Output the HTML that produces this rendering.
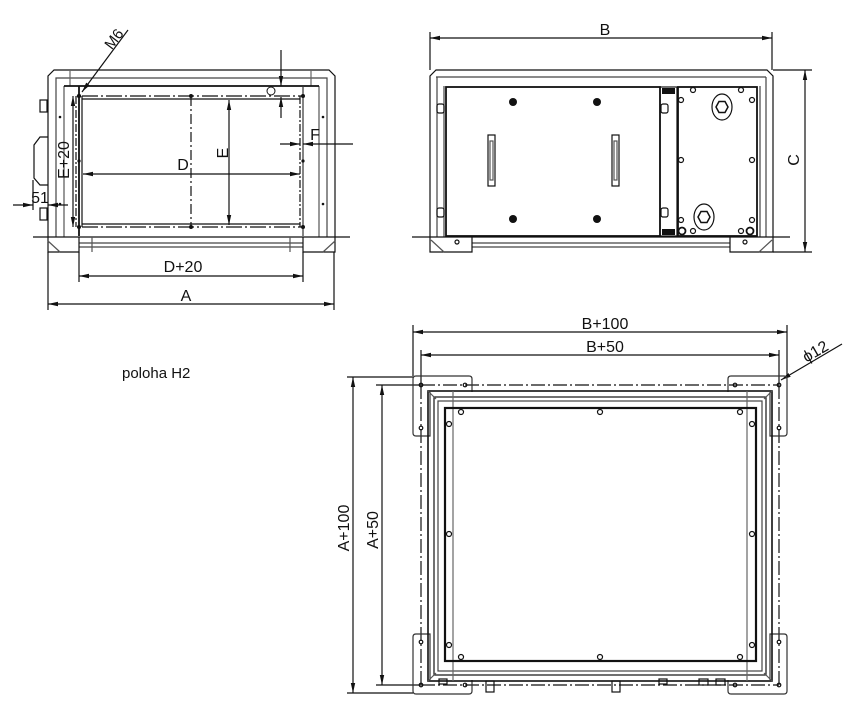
<!DOCTYPE html>
<html><head><meta charset="utf-8"><style>
html,body{margin:0;padding:0;background:#fff;}
svg{display:block;}
text{font-family:"Liberation Sans",Arial,sans-serif;fill:#111;}
</style></head><body>
<svg width="851" height="716" viewBox="0 0 851 716" xmlns="http://www.w3.org/2000/svg">
<defs>
<marker id="a" viewBox="0 0 10 6" refX="10" refY="3" markerWidth="10" markerHeight="6" orient="auto-start-reverse" markerUnits="userSpaceOnUse"><path d="M0,0.8 L10,3 L0,5.2 Z" fill="#111"/></marker>
</defs>
<g stroke="#111" fill="none" stroke-width="1.2">
<!-- ============ LEFT VIEW ============ -->
<path d="M48,237 V76 L54,70 H329 L335,76 V237"/>
<path d="M56,237 V78 H327 V237" stroke="#444"/>
<path d="M64,237 V86 M319,237 V86" stroke="#555"/>
<line x1="70" y1="70" x2="70" y2="86" stroke="#666"/>
<line x1="311" y1="70" x2="311" y2="86" stroke="#666"/>
<line x1="64" y1="86" x2="319" y2="86" stroke-width="1.8"/>
<line x1="79" y1="86" x2="79" y2="236" stroke-width="1.8"/>
<line x1="303" y1="86" x2="303" y2="236" stroke="#333"/>
<line x1="82" y1="96" x2="303" y2="96" stroke-dasharray="16,3,2,3"/>
<line x1="82" y1="99" x2="300" y2="99"/>
<line x1="82" y1="224" x2="300" y2="224"/>
<line x1="82" y1="227" x2="303" y2="227" stroke-dasharray="16,3,2,3"/>
<line x1="82" y1="96" x2="82" y2="227"/>
<line x1="76" y1="96" x2="76" y2="227" stroke-dasharray="8,2,2,2"/>
<line x1="300" y1="96" x2="300" y2="227" stroke-dasharray="8,2,2,2"/>
<line x1="191" y1="96" x2="191" y2="227" stroke-dasharray="10,3,2,3"/>
<line x1="33" y1="237" x2="350" y2="237"/>
<line x1="79" y1="243" x2="303" y2="243" stroke="#444"/>
<line x1="79" y1="247" x2="303" y2="247" stroke="#444"/>
<path d="M48,237 V252 H79 V237 M303,237 V252 H335 V237"/>
<path d="M48,241 L60,252 M335,241 L323,252 M92,237 V252 M290,237 V252" stroke="#555"/>
<path d="M48,137 H40 L34,145 V178 L40,185 H48"/>
<rect x="40" y="100" width="7" height="12"/>
<rect x="40" y="208" width="7" height="12"/>
<line x1="79" y1="252" x2="79" y2="282"/>
<line x1="303" y1="252" x2="303" y2="282"/>
<line x1="48" y1="252" x2="48" y2="310"/>
<line x1="334" y1="252" x2="334" y2="310"/>
<line x1="79" y1="276" x2="303" y2="276" marker-start="url(#a)" marker-end="url(#a)"/>
<line x1="48" y1="304" x2="334" y2="304" marker-start="url(#a)" marker-end="url(#a)"/>
<line x1="73" y1="96" x2="73" y2="227" marker-start="url(#a)" marker-end="url(#a)"/>
<line x1="83" y1="174" x2="300" y2="174" marker-start="url(#a)" marker-end="url(#a)"/>
<line x1="229" y1="100" x2="229" y2="225" marker-start="url(#a)" marker-end="url(#a)"/>
<line x1="280" y1="144" x2="300" y2="144" marker-end="url(#a)"/>
<line x1="353" y1="144" x2="303" y2="144" marker-end="url(#a)"/>
<line x1="281" y1="50" x2="281" y2="86" marker-end="url(#a)"/>
<line x1="281" y1="118" x2="281" y2="97" marker-end="url(#a)"/>
<line x1="128" y1="30" x2="82" y2="92" marker-end="url(#a)"/>
<line x1="13" y1="205" x2="33" y2="205" marker-end="url(#a)"/>
<line x1="68" y1="205" x2="48" y2="205" marker-end="url(#a)"/>
<line x1="33" y1="180" x2="33" y2="210"/>
</g>
<g fill="#111">
<circle cx="79" cy="96" r="2.2"/><circle cx="191" cy="96" r="2"/><circle cx="303" cy="96" r="2"/>
<circle cx="79" cy="227" r="2"/><circle cx="191" cy="227" r="2"/><circle cx="303" cy="227" r="2"/>
<circle cx="79" cy="161" r="1.6"/><circle cx="303" cy="161" r="1.6"/>
<circle cx="60" cy="117" r="1.3"/><circle cx="60" cy="204" r="1.3"/><circle cx="323" cy="117" r="1.3"/><circle cx="323" cy="204" r="1.3"/>
</g>
<circle cx="271" cy="91" r="4" fill="none" stroke="#111"/>
<text x="183" y="272" font-size="16" text-anchor="middle">D+20</text>
<text x="186" y="301" font-size="16" text-anchor="middle">A</text>
<text x="183" y="170" font-size="16" text-anchor="middle">D</text>
<text x="315" y="140" font-size="16" text-anchor="middle">F</text>
<text x="40" y="203" font-size="16" text-anchor="middle">51</text>
<text transform="translate(69,160) rotate(-90)" font-size="16" text-anchor="middle">E+20</text>
<text transform="translate(228,153) rotate(-90)" font-size="16" text-anchor="middle">E</text>
<text transform="translate(118,42) rotate(-53)" font-size="15" text-anchor="middle">M6</text>
<text x="122" y="378" font-size="15" text-anchor="start">poloha H2</text>

<!-- ============ RIGHT VIEW ============ -->
<g stroke="#111" fill="none" stroke-width="1.2">
<path d="M430,237 V76 L436,70 H767 L773,76 V237"/>
<line x1="436" y1="77" x2="766" y2="77" stroke="#444"/>
<path d="M437,237 V77 M766,237 V77" stroke="#444"/>
<line x1="444" y1="86" x2="444" y2="237" stroke="#444"/>
<line x1="760" y1="86" x2="760" y2="237" stroke="#444"/>
<rect x="446" y="87" width="214" height="149" stroke-width="1.8"/>
<rect x="660" y="87" width="17" height="149"/>
<rect x="678" y="87" width="79" height="149" stroke-width="1.8"/>
<line x1="412" y1="237" x2="790" y2="237"/>
<line x1="472" y1="243" x2="730" y2="243" stroke="#444"/>
<line x1="472" y1="247" x2="730" y2="247" stroke="#444"/>
<path d="M430,237 V252 H472 V237 M730,237 V252 H773 V237"/>
<path d="M431,240 L444,252 M772,240 L759,252" stroke="#555"/>
<rect x="488" y="135" width="7" height="51"/>
<rect x="612" y="135" width="7" height="51"/>
<rect x="490" y="141" width="3" height="39" stroke="#555"/>
<rect x="614" y="141" width="3" height="39" stroke="#555"/>
<rect x="437" y="104" width="7" height="9" rx="2"/>
<rect x="437" y="208" width="7" height="9" rx="2"/>
<rect x="661" y="104" width="7" height="9" rx="2"/>
<rect x="661" y="208" width="7" height="9" rx="2"/>
<ellipse cx="722" cy="107" rx="10" ry="13"/>
<polygon points="716,107 719,101.5 725,101.5 728,107 725,112.5 719,112.5" stroke-width="1.5"/>
<ellipse cx="704" cy="217" rx="10" ry="13"/>
<polygon points="698,217 701,211.5 707,211.5 710,217 707,222.5 701,222.5" stroke-width="1.5"/>
<circle cx="693" cy="90" r="2.5"/><circle cx="741" cy="90" r="2.5"/>
<circle cx="681" cy="100" r="2.5"/><circle cx="752" cy="100" r="2.5"/>
<circle cx="681" cy="160" r="2.5"/><circle cx="752" cy="160" r="2.5"/>
<circle cx="681" cy="220" r="2.5"/><circle cx="752" cy="220" r="2.5"/>
<circle cx="693" cy="231" r="2.5"/><circle cx="741" cy="231" r="2.5"/>
<circle cx="682" cy="231" r="3.5" stroke-width="1.8"/><circle cx="750" cy="231" r="3.5" stroke-width="1.8"/>
<circle cx="457" cy="242" r="2"/><circle cx="745" cy="242" r="2"/>
<line x1="430" y1="32" x2="430" y2="70"/>
<line x1="772" y1="32" x2="772" y2="70"/>
<line x1="430" y1="38" x2="772" y2="38" marker-start="url(#a)" marker-end="url(#a)"/>
<line x1="773" y1="70" x2="812" y2="70"/>
<line x1="773" y1="252" x2="812" y2="252"/>
<line x1="805" y1="70" x2="805" y2="252" marker-start="url(#a)" marker-end="url(#a)"/>
</g>
<g fill="#111">
<circle cx="513" cy="102" r="4"/><circle cx="597" cy="102" r="4"/>
<circle cx="513" cy="219" r="4"/><circle cx="597" cy="219" r="4"/>
<rect x="662" y="88" width="13" height="6"/><rect x="662" y="229" width="13" height="6"/>
</g>
<text x="605" y="35" font-size="16" text-anchor="middle">B</text>
<text transform="translate(799,160) rotate(-90)" font-size="16" text-anchor="middle">C</text>

<!-- ============ BOTTOM VIEW ============ -->
<g stroke="#111" fill="none" stroke-width="1.2">
<line x1="413" y1="325" x2="413" y2="376"/>
<line x1="787" y1="325" x2="787" y2="376"/>
<line x1="413" y1="332" x2="787" y2="332" marker-start="url(#a)" marker-end="url(#a)"/>
<line x1="421" y1="350" x2="421" y2="385"/>
<line x1="779" y1="350" x2="779" y2="385"/>
<line x1="421" y1="355" x2="779" y2="355" marker-start="url(#a)" marker-end="url(#a)"/>
<line x1="347" y1="377" x2="413" y2="377"/>
<line x1="347" y1="693" x2="413" y2="693"/>
<line x1="353" y1="377" x2="353" y2="693" marker-start="url(#a)" marker-end="url(#a)"/>
<line x1="376" y1="385" x2="421" y2="385"/>
<line x1="376" y1="685" x2="421" y2="685"/>
<line x1="382" y1="385" x2="382" y2="685" marker-start="url(#a)" marker-end="url(#a)"/>
<line x1="842" y1="344" x2="781" y2="380" marker-end="url(#a)"/>
<line x1="421" y1="385" x2="779" y2="385" stroke-dasharray="14,3,2,3"/>
<line x1="421" y1="685" x2="779" y2="685" stroke-dasharray="14,3,2,3"/>
<line x1="421" y1="385" x2="421" y2="685" stroke-dasharray="14,3,2,3"/>
<line x1="779" y1="385" x2="779" y2="685" stroke-dasharray="14,3,2,3"/>
<path d="M430,392 V436 H416 Q413,436 413,433 V379 Q413,376 416,376 H469 Q472,376 472,379 V392" stroke="#333"/>
<path d="M770,392 V436 H784 Q787,436 787,433 V379 Q787,376 784,376 H731 Q728,376 728,379 V392" stroke="#333"/>
<path d="M430,680 V634 H416 Q413,634 413,637 V691 Q413,694 416,694 H469 Q472,694 472,691 V680" stroke="#333"/>
<path d="M770,680 V634 H784 Q787,634 787,637 V691 Q787,694 784,694 H731 Q728,694 728,691 V680" stroke="#333"/>
<rect x="428" y="391" width="344" height="290" stroke-width="1.6"/>
<rect x="434" y="397" width="332" height="278"/>
<rect x="438" y="401" width="324" height="270" stroke="#444"/>
<path d="M453,391 V681 M747,391 V681" stroke="#666"/>
<path d="M428,391 L436,399 M772,391 L764,399 M428,681 L436,673 M772,681 L764,673" stroke="#555"/>
<rect x="445" y="408" width="311" height="253" stroke-width="2.2"/>
<circle cx="461" cy="412" r="2.5"/><circle cx="600" cy="412" r="2.5"/><circle cx="740" cy="412" r="2.5"/>
<circle cx="449" cy="424" r="2.5"/><circle cx="752" cy="424" r="2.5"/>
<circle cx="449" cy="534" r="2.5"/><circle cx="752" cy="534" r="2.5"/>
<circle cx="449" cy="645" r="2.5"/><circle cx="752" cy="645" r="2.5"/>
<circle cx="461" cy="657" r="2.5"/><circle cx="600" cy="657" r="2.5"/><circle cx="740" cy="657" r="2.5"/>
<circle cx="421" cy="385" r="1.8"/><circle cx="465" cy="385" r="1.8"/><circle cx="421" cy="428" r="1.8"/>
<circle cx="779" cy="385" r="1.8"/><circle cx="735" cy="385" r="1.8"/><circle cx="779" cy="428" r="1.8"/>
<circle cx="421" cy="685" r="1.8"/><circle cx="465" cy="685" r="1.8"/><circle cx="421" cy="642" r="1.8"/>
<circle cx="779" cy="685" r="1.8"/><circle cx="735" cy="685" r="1.8"/><circle cx="779" cy="642" r="1.8"/>
<rect x="486" y="681" width="8" height="11"/>
<rect x="612" y="681" width="8" height="11"/>
<rect x="439" y="679" width="8" height="5"/>
<rect x="659" y="679" width="8" height="5"/>
<rect x="699" y="679" width="9" height="6"/>
<rect x="716" y="679" width="9" height="6"/>
</g>
<text x="605" y="329" font-size="16" text-anchor="middle">B+100</text>
<text x="605" y="352" font-size="16" text-anchor="middle">B+50</text>
<text transform="translate(349,528) rotate(-90)" font-size="16" text-anchor="middle">A+100</text>
<text transform="translate(378,530) rotate(-90)" font-size="16" text-anchor="middle">A+50</text>
<text transform="translate(818,356) rotate(-30)" font-size="16" text-anchor="middle">ϕ12</text>
</svg>
</body></html>
